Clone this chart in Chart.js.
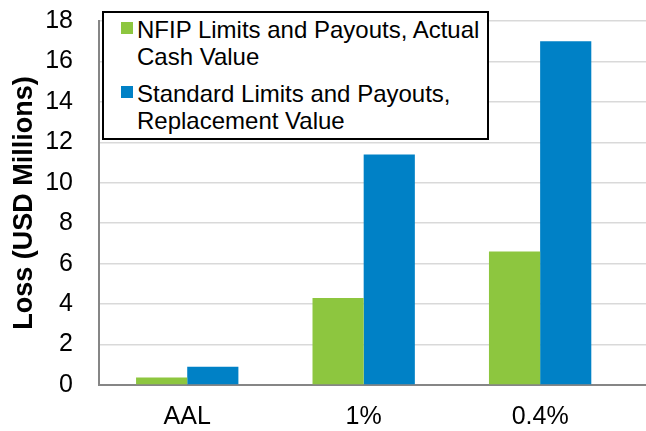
<!DOCTYPE html>
<html>
<head>
<meta charset="utf-8">
<script src="https://cdn.jsdelivr.net/npm/chart.js@4.4.1/dist/chart.umd.min.js"></script>
<style>
    html, body { margin: 0; padding: 0; background: #fff; }
    #wrap { position: relative; width: 646px; height: 431px; }
    #legend {
        position: absolute; left: 102px; top: 11px; width: 383px; height: 122px;
        border: 2px solid #000; background: #fff; margin: 0; padding: 3px 0 0 0;
        list-style: none; font-family: "Liberation Sans", Arial, sans-serif; font-size: 24px;
        line-height: 27px; color: #000;
    }
    #legend li { position: relative; padding-left: 33px; padding-right: 6px; margin-bottom: 10px; }
    .itemMaker { position: absolute; left: 17px; top: 6px; width: 12px; height: 12px; }
</style>
</head>
<body>
<div id="wrap">
    <canvas id="myChart" width="646" height="431"></canvas>
    <ul id="legend"></ul>
</div>
<script>
const categories = ['AAL', '1%', '0.4%'];
const nfipValues = [0.37, 4.3, 6.6];
const standardValues = [0.9, 11.4, 17.0];
const seriesLabels = ['NFIP Limits and Payouts, Actual Cash Value', 'Standard Limits and Payouts, Replacement Value'];
const yTicks = [0, 2, 4, 6, 8, 10, 12, 14, 16, 18];

const green = '#8dc63f';
const blue = '#0081c6';
const font = '"Liberation Sans", Arial, sans-serif';

function toPoints(values) {
    return values.map((v, i) => ({ x: i, y: v }));
}

function generateCustomLegend(chart) {
    const legendItems = chart.legend.legendItems;
    const legendContainer = document.getElementById('legend');
    legendContainer.innerHTML = '';
    for (let i = 0; i < legendItems.length; i++) {
        const item = legendItems[i];
        const listItem = document.createElement('li');
        const itemMarker = document.createElement('span');
        const itemText = document.createElement('span');
        itemMarker.classList.add('itemMaker');
        itemMarker.style.backgroundColor = item.fillStyle;
        itemText.appendChild(document.createTextNode(item.text));
        listItem.appendChild(itemMarker);
        listItem.appendChild(itemText);
        legendContainer.appendChild(listItem);
    }
}

const ctx = document.getElementById('myChart');
const myChart = new Chart(ctx, {
    type: 'bar',
    data: {
        datasets: [
            { label: seriesLabels[0], data: toPoints(nfipValues), backgroundColor: green, borderWidth: 0 },
            { label: seriesLabels[1], data: toPoints(standardValues), backgroundColor: blue, borderWidth: 0 }
        ]
    },
    options: {
        responsive: false,
        animation: false,
        layout: { padding: { left: 0, right: 0, top: 21, bottom: 0 } },
        datasets: { bar: { barPercentage: 1, categoryPercentage: 0.58 } },
        plugins: { legend: { display: false }, tooltip: { enabled: false } },
        scales: {
            x: {
                type: 'linear',
                offset: false,
                min: -0.5,
                max: 2.6,
                afterBuildTicks: (scale) => { scale.ticks = categories.map((c, i) => ({ value: i })); },
                afterFit: (scale) => { scale.height = 46; scale.paddingLeft = 0; scale.paddingRight = 0; },
                ticks: {
                    callback: (val) => categories[val],
                    font: { family: font, size: 25 },
                    color: '#000',
                    padding: 17
                },
                grid: { display: false, drawTicks: false },
                border: { color: '#868686', width: 2 }
            },
            y: {
                min: 0,
                max: 18,
                afterBuildTicks: (scale) => { scale.ticks = yTicks.map(v => ({ value: v })); },
                afterFit: (scale) => { scale.width = 99; scale.paddingTop = 0; scale.paddingBottom = 0; },
                ticks: {
                    font: { family: font, size: 25 },
                    color: '#000',
                    padding: 26
                },
                grid: { color: '#d9d9d9', lineWidth: 1.5, drawTicks: false },
                border: { color: '#868686', width: 2 },
                title: {
                    display: true,
                    text: 'Loss (USD Millions)',
                    font: { family: font, size: 27, weight: 'bold' },
                    color: '#000',
                    padding: { top: 8, bottom: 0 }
                }
            }
        }
    }
});
generateCustomLegend(myChart);
</script>
</body>
</html>
